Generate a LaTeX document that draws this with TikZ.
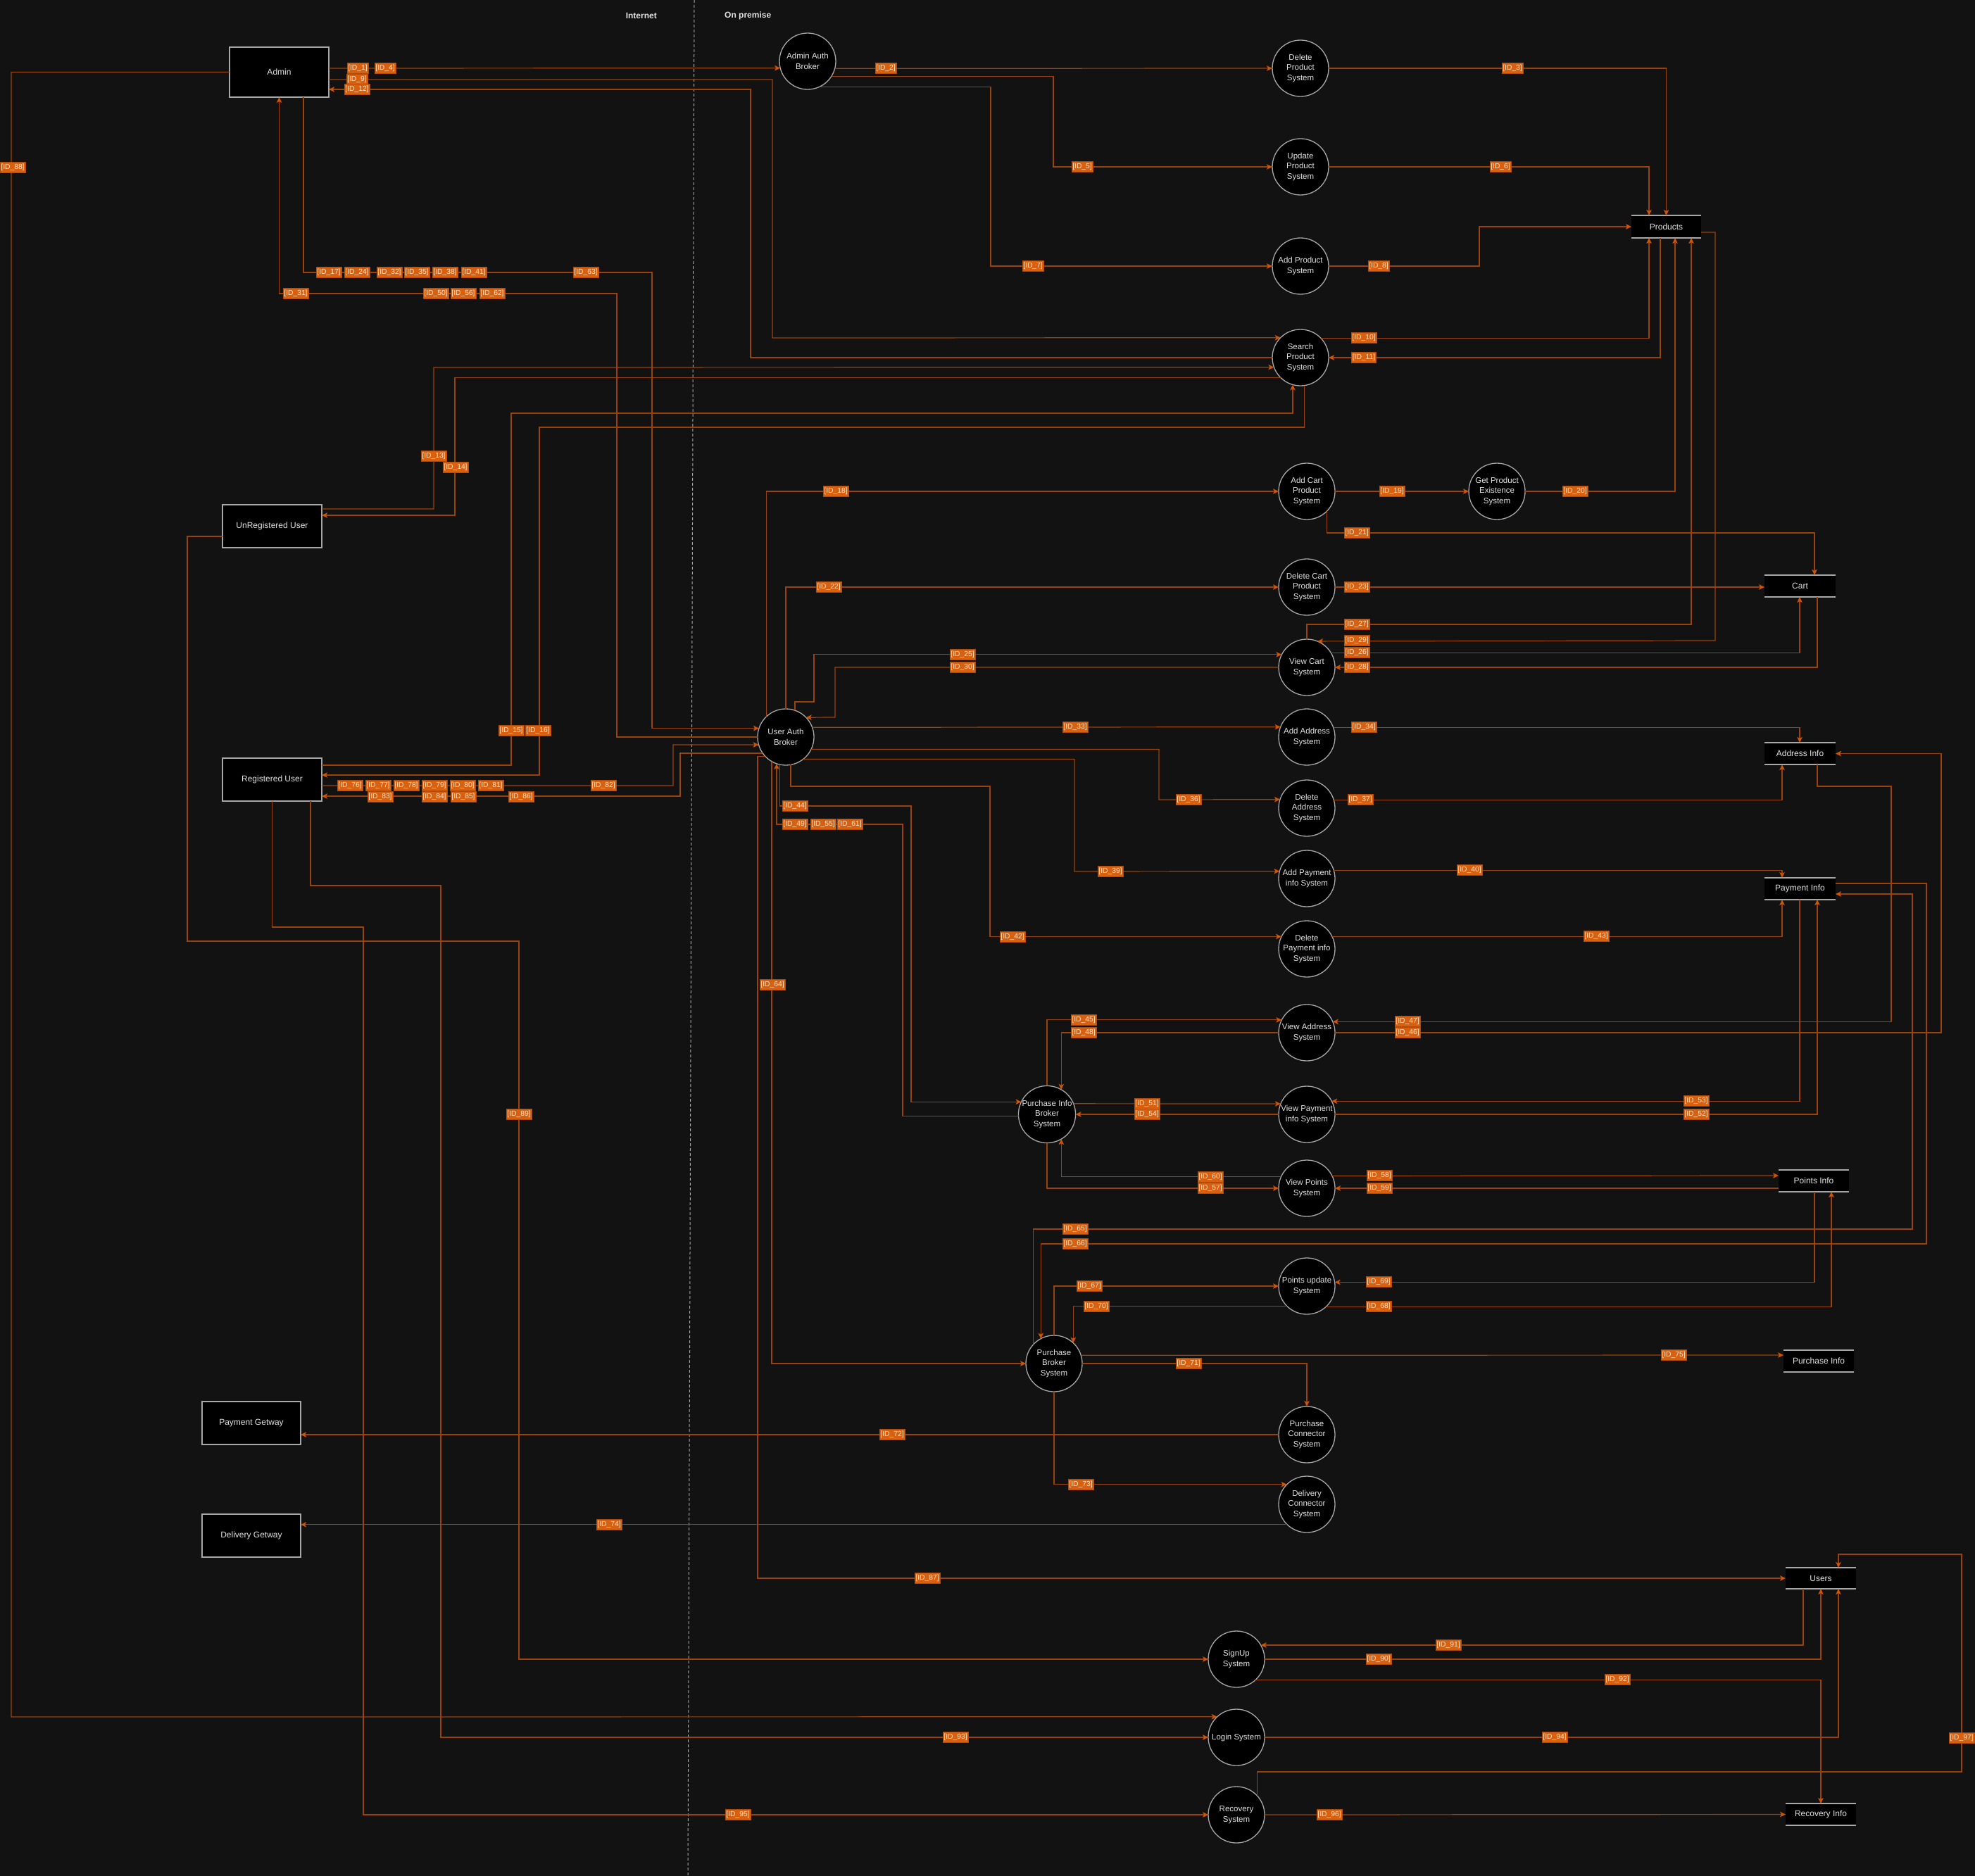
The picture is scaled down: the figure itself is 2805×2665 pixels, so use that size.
\documentclass[tikz,border=0pt]{standalone}
\usepackage{fontspec}
\setmainfont{Liberation Sans}
\usetikzlibrary{arrows.meta}
\definecolor{bg}{HTML}{121212}
\definecolor{linec}{HTML}{9A4208}
\definecolor{tipc}{HTML}{D35400}
\definecolor{labf}{HTML}{D9600F}
\definecolor{labd}{HTML}{B04A08}
\definecolor{labt}{HTML}{FFE8D0}
\definecolor{boxline}{HTML}{A8A8A8}
\definecolor{txt}{HTML}{E2E2E2}
\tikzset{
  proc/.style={circle, draw=boxline, fill=black, line width=1.3pt, minimum size=80pt, inner sep=0pt, outer sep=0pt, text=txt, align=center, font=\fontsize{11.5}{14.5}\selectfont},
  ext/.style={rectangle, draw=boxline, fill=black, line width=1.5pt, minimum width=141pt, minimum height=61pt, inner sep=0pt, outer sep=0pt, text=txt, font=\fontsize{12}{14.5}\selectfont},
  store/.style={rectangle, fill=black, minimum width=100pt, minimum height=31pt, inner sep=0pt, outer sep=0pt, text=txt, font=\fontsize{12}{14.5}\selectfont},
  storeline/.style={draw=boxline, line width=2pt},
  flow/.style={draw=linec, line width=1.2pt, -{Stealth[length=8pt,width=7.5pt,inset=2pt,color=tipc]}},
  idlab/.style={fill=labf, draw=labd, line width=0.5pt, text=labt, font=\fontsize{10.3}{12}\selectfont, inner xsep=1.5pt, inner ysep=0pt, minimum height=15pt, text height=7.5pt, text depth=2.5pt},
  hdr/.style={text=txt, font=\bfseries\fontsize{12}{14}\selectfont, inner sep=0pt},
  divider/.style={draw=boxline, line width=1pt, dash pattern=on 4pt off 3pt}
}
\newcommand\idl[3]{\node[idlab] (id#1) at (#2,#3) {[ID\_#1]};}
\begin{document}
\begin{tikzpicture}[x=1pt,y=-1pt]
\fill[bg] (0,0) rectangle (2805,2665);
\useasboundingbox (0,0) rectangle (2805,2665);
\draw[divider] (986,0) -- (977,2665);
\node[hdr, anchor=east] (inet) at (933,22) {Internet};
\node[hdr, anchor=west] (onprem) at (1029,22) {On premise};

% external entities
\node[ext, minimum height=71pt] (admin) at (396.5,102.5) {Admin};
\node[ext] (unreg) at (386.5,747.5) {UnRegistered User};
\node[ext] (reg) at (386.5,1107.5) {Registered User};
\node[ext, minimum width=140pt] (paygw) at (357,2021.5) {Payment Getway};
\node[ext, minimum width=140pt] (delgw) at (357,2181.5) {Delivery Getway};

% processes
\node[proc] (aab) at (1147,87) {Admin Auth\\Broker};
\node[proc] (dp) at (1847,97) {Delete\\Product\\System};
\node[proc] (up) at (1847,237) {Update\\Product\\System};
\node[proc] (ap) at (1847,378) {Add Product\\System};
\node[proc] (sp) at (1847,508) {Search\\Product\\System};
\node[proc] (acp) at (1856,698) {Add Cart\\Product\\System};
\node[proc] (gpe) at (2126,698) {Get Product\\Existence\\System};
\node[proc] (dcp) at (1856,834) {Delete Cart\\Product\\System};
\node[proc] (vc) at (1856,948) {View Cart\\System};
\node[proc] (aa) at (1856,1047) {Add Address\\System};
\node[proc] (da) at (1856,1148) {Delete\\Address\\System};
\node[proc] (apay) at (1856,1248) {Add Payment\\info System};
\node[proc] (dpay) at (1856,1348) {Delete\\Payment info\\System};
\node[proc] (uab) at (1116,1047) {User Auth\\Broker};
\node[proc] (pib) at (1487,1583) {Purchase Info\\Broker\\System};
\node[proc] (va) at (1856,1467) {View Address\\System};
\node[proc] (vpay) at (1856,1583) {View Payment\\info System};
\node[proc] (vpts) at (1856,1688) {View Points\\System};
\node[proc] (pu) at (1856,1827) {Points update\\System};
\node[proc] (pb) at (1497,1937) {Purchase\\Broker\\System};
\node[proc] (pc) at (1856,2038) {Purchase\\Connector\\System};
\node[proc] (dc) at (1856,2137) {Delivery\\Connector\\System};
\node[proc] (su) at (1756,2357) {SignUp\\System};
\node[proc] (li) at (1756,2468) {Login System};
\node[proc] (rs) at (1756,2578) {Recovery\\System};

% data stores
\node[store, minimum width=99pt, minimum height=32pt] (products) at (2366.5,322) {Products};
\node[store, minimum width=101pt] (cart) at (2556.5,832.5) {Cart};
\node[store, minimum width=101pt] (addr) at (2556.5,1070.5) {Address Info};
\node[store, minimum width=101pt] (pay) at (2556.5,1262.5) {Payment Info};
\node[store] (pts) at (2576,1677.5) {Points Info};
\node[store] (purch) at (2583,1933.5) {Purchase Info};
\node[store, minimum height=30pt] (users) at (2586,2242) {Users};
\node[store] (rec) at (2586,2577.5) {Recovery Info};
\foreach \s in {products,cart,addr,pay,pts,purch,users,rec}
  \draw[storeline] (\s.north west) -- (\s.north east) (\s.south west) -- (\s.south east);

% flows
\draw[flow] (admin.east |- 0,97) -- (aab.194.5);
\draw[flow] (aab.345.5) -- (dp.west);
\draw[flow] (aab.328.3) -| (1496,237) -- (up.west);
\draw[flow] (aab.295.8) -| (1407,378) -- (ap.west);
\draw[flow] (dp.east) -| (products.north);
\draw[flow] (up.east) -| (2342,0 |- products.north);
\draw[flow] (ap.east) -| (2101,322) -- (products.west);
\draw[flow] (admin.east |- 0,113) -| (1097,480) -- (sp.135.6);
\draw[flow] (sp.west) -| (1066,127) -- (admin.east |- 0,127);
\draw[flow] (sp.44.4) -| (2342,0 |- products.south);
\draw[flow] (2358,0 |- products.south) |- (sp.east);
\draw[flow] (unreg.east |- 0,723) -| (616,522) -- (sp.200.5);
\draw[flow] (sp.226.5) -| (646,732) -- (unreg.east |- 0,732);
\draw[flow] (reg.east |- 0,1087) -| (726,587) -| (sp.254);
\draw[flow] (sp.278.6) |- (766,607) |- (reg.east |- 0,1101);
\draw[flow] (admin.south -| 431,0) |- (926,387) |- (uab.162.5);
\draw[flow] (uab.west) -| (876,417) -| (admin.south);
\draw[flow] (reg.east |- 0,1116) -| (956,1058) -- (uab.196);
\draw[flow] (uab.215.1) -| (966,1131) -- (reg.east |- 0,1131);
\draw[flow] (uab.134.4) |- (acp.west);
\draw[flow] (acp.east) -- (gpe.west);
\draw[flow] (gpe.east) -| (2379,0 |- products.south);
\draw[flow] (acp.316.5) |- (2577,757) -- (2577,0 |- cart.north);
\draw[flow] (uab.north) |- (dcp.west);
\draw[flow] (dcp.east) -- (cart.west |- dcp.east);
\draw[flow] (uab.71) |- (1156,997) |- (vc.153.3);
\draw[flow] (vc.west) -| (1186,1019) -- (uab.44.4);
\draw[flow] (vc.north) |- (2402,887) -- (2402,0 |- products.south);
\draw[flow] (products.east |- 0,330) -| (2436,910) -- (vc.68);
\draw[flow] (vc.31.7) -| (2556,0 |- cart.south);
\draw[flow] (2581,0 |- cart.south) |- (vc.east);
\draw[flow] (uab.20.5) -- (aa.159.5);
\draw[flow] (aa.20.5) -| (2556,0 |- addr.north);
\draw[flow] (uab.334.8) -| (1646,1136) -- (da.162.5);
\draw[flow] (da.17.5) -| (2531,0 |- addr.south);
\draw[flow] (uab.308) -| (1526,1238) -- (apay.165.5);
\draw[flow] (apay.17.5) -| (2531,0 |- pay.north);
\draw[flow] (uab.280) |- (1406,1117) |- (dpay.154.8);
\draw[flow] (dpay.26.7) -| (2531,0 |- pay.south);
\draw[flow] (uab.258.5) |- (1294,1145) |- (pib.154.8);
\draw[flow] (pib.184) -| (1282,1171) -| (uab.251);
\draw[flow] (uab.240) |- (pb.west);
\draw[flow] (uab.224.4) -| (1076,2242) -- (users.west);
\draw[flow] (pib.north) |- (va.153.3);
\draw[flow] (va.west) -| (pib.60);
\draw[flow] (2581,0 |- addr.south) |- (2686,1117) |- (va.23.6);
\draw[flow] (va.east) -| (2757,0 |- addr.east) -- (addr.east);
\draw[flow] (pib.22) -- (vpay.158);
\draw[flow] (vpay.west) -- (pib.east);
\draw[flow] (2556,0 |- pay.south) |- (vpay.28.4);
\draw[flow] (vpay.east) -| (2581,0 |- pay.south);
\draw[flow] (vpts.156.4) -| (pib.300);
\draw[flow] (pib.south) |- (vpts.west);
\draw[flow] (vpts.26.7) -- (pts.west |- 0,1670);
\draw[flow] (pts.west |- vpts.east) -- (vpts.east);
\draw[flow] (pb.138.6) |- (2716,1746) |- (pay.east |- 0,1270);
\draw[flow] (pay.east |- 0,1255) -| (2736,1767) -| (pb.118.4);
\draw[flow] (pb.north) |- (pu.west);
\draw[flow] (pu.226.5) -| (pb.47.6);
\draw[flow] (2577,0 |- pts.south) |- (pu.8.6);
\draw[flow] (pu.313.5) -| (2601,0 |- pts.south);
\draw[flow] (pb.17.5) -- (purch.west |- 0,1925);
\draw[flow] (pb.east) -| (pc.north);
\draw[flow] (pc.west) -- (paygw.east |- pc.west);
\draw[flow] (pb.south) |- (dc.135.6);
\draw[flow] (dc.226.5) -- (delgw.east |- dc.226.5);
\draw[flow] (admin.west) -| (16,2439) -- (li.133.5);
\draw[flow] (unreg.west |- 0,762) -| (266,1337) -| (737,2357) -- (su.west);
\draw[flow] (reg.south -| 441,0) |- (626,1258) |- (li.west);
\draw[flow] (reg.south) |- (516,1317) |- (rs.west);
\draw[flow] (2561,0 |- users.south) |- (su.30);
\draw[flow] (su.east) -| (users.south);
\draw[flow] (su.313.5) -| (rec.north);
\draw[flow] (li.east) -| (2611,0 |- users.south);
\draw[flow] (rs.east) -- (rec.west);
\draw[flow] (rs.43.5) |- (2786,2517) |- (2611,2208) -- (2611,0 |- users.north);

% labels
\idl{1}{508}{97} \idl{4}{547}{97} \idl{2}{1258}{97} \idl{3}{2148}{97}
\idl{5}{1537}{237} \idl{6}{2131}{237} \idl{7}{1467}{378} \idl{8}{1958}{378}
\idl{9}{507}{113} \idl{12}{507}{127} \idl{10}{1937}{480} \idl{11}{1937}{508}
\idl{13}{616}{648} \idl{14}{647}{664} \idl{15}{726}{1038} \idl{16}{764}{1038}
\idl{17}{467}{387} \idl{24}{507}{387} \idl{32}{553}{387} \idl{35}{592}{387}
\idl{38}{632}{387} \idl{41}{673}{387} \idl{63}{832}{387}
\idl{31}{420}{417} \idl{50}{619}{417} \idl{56}{658}{417} \idl{62}{699}{417}
\idl{18}{1187}{698} \idl{19}{1977}{698} \idl{20}{2237}{698} \idl{21}{1927}{757}
\idl{22}{1177}{834} \idl{23}{1927}{834}
\idl{25}{1367}{930} \idl{30}{1367}{948}
\idl{27}{1927}{887} \idl{29}{1927}{910} \idl{26}{1927}{927} \idl{28}{1927}{948}
\idl{33}{1527}{1033} \idl{34}{1937}{1033} \idl{36}{1688}{1136} \idl{37}{1932}{1136}
\idl{39}{1577}{1238} \idl{40}{2087}{1236} \idl{42}{1438}{1331} \idl{43}{2267}{1330}
\idl{44}{1129}{1145} \idl{49}{1129}{1171} \idl{55}{1169}{1171} \idl{61}{1207}{1171}
\idl{45}{1539}{1449} \idl{48}{1539}{1467} \idl{47}{1999}{1451} \idl{46}{1999}{1467}
\idl{51}{1629}{1568} \idl{54}{1629}{1583} \idl{53}{2409}{1564} \idl{52}{2409}{1583}
\idl{60}{1719}{1672} \idl{57}{1719}{1688} \idl{58}{1959}{1670} \idl{59}{1959}{1688}
\idl{64}{1097}{1399}
\idl{65}{1527}{1746} \idl{66}{1527}{1767} \idl{67}{1547}{1827} \idl{70}{1557}{1856}
\idl{69}{1958}{1821} \idl{68}{1958}{1856}
\idl{71}{1688}{1937} \idl{75}{2377}{1925} \idl{72}{1267}{2038} \idl{73}{1535}{2109}
\idl{74}{865}{2166}
\idl{76}{497}{1116} \idl{77}{537}{1116} \idl{78}{577}{1116} \idl{79}{617}{1116}
\idl{80}{657}{1116} \idl{81}{697}{1116} \idl{82}{857}{1116}
\idl{83}{540}{1132} \idl{84}{617}{1132} \idl{85}{658}{1132} \idl{86}{740}{1132}
\idl{87}{1317}{2242} \idl{88}{18}{238} \idl{89}{737}{1583}
\idl{90}{1958}{2357} \idl{91}{2057}{2337} \idl{92}{2297}{2386}
\idl{93}{1357}{2468} \idl{94}{2208}{2468} \idl{95}{1048}{2578} \idl{96}{1888}{2578}
\idl{97}{2786}{2469}
\end{tikzpicture}
\end{document}
